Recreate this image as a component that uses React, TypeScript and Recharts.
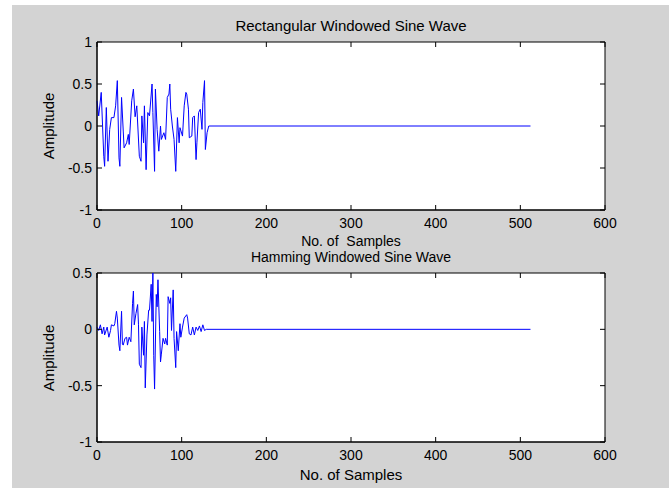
import React from 'react';
import { LineChart, Line, XAxis, YAxis, CartesianGrid, ReferenceArea } from 'recharts';

// sample positions / amplitudes (zero tail after the window)
const rectSamples = [0, 2, 5, 8, 9, 11, 13, 15, 17, 20, 22, 24, 26, 27, 29, 31, 32, 35, 37, 38, 41, 43, 45, 47, 50, 52, 53, 55, 56, 58, 60, 62, 65, 66, 68, 69, 71, 73, 75, 76, 79, 81, 83, 85, 86, 87, 89, 91, 93, 95, 97, 98, 101, 103, 105, 106, 108, 109, 112, 113, 115, 117, 118, 120, 122, 124, 125, 127, 128, 130, 132, 512];
const rectValues = [0.3, 0.12, 0.4, -0.36, -0.48, 0.22, -0.42, -0.04, 0.1, 0.1, 0.24, 0.54, -0.38, -0.48, 0.34, -0.06, -0.26, -0.2, -0.1, -0.22, 0.3, 0.44, 0.11, 0.24, -0.36, -0.42, 0.12, -0.2, 0.24, -0.52, 0.16, 0.12, 0.5, 0.16, -0.54, 0.44, -0.04, -0.3, 0, -0.16, -0.08, -0.16, 0.34, 0.38, 0.5, 0.2, 0, -0.16, -0.54, 0.1, -0.2, -0.02, -0.12, 0.24, 0.4, 0.38, 0.2, -0.14, -0.12, 0.1, 0.12, -0.4, -0.2, 0.16, 0.2, -0.04, 0.28, 0.54, -0.28, -0.08, 0, 0];

const hammSamples = [0, 2, 4, 6, 8, 9, 12, 14, 16, 17, 20, 21, 23, 24, 26, 27, 29, 30, 31, 33, 35, 36, 38, 40, 42, 43, 44, 46, 48, 49, 50, 52, 53, 55, 56, 57, 59, 61, 62, 64, 65, 66, 67, 68, 70, 71, 72, 74, 75, 76, 78, 80, 81, 83, 84, 86, 87, 88, 90, 91, 93, 94, 96, 98, 99, 101, 103, 106, 107, 109, 111, 113, 115, 117, 119, 121, 123, 125, 127, 129, 512];
const hammValues = [0.02, -0.01, 0.04, -0.04, 0.02, -0.05, 0.02, -0.07, -0.01, 0.04, 0.03, 0.05, 0.16, 0.1, -0.14, -0.19, 0.16, -0.13, -0.14, -0.08, -0.07, -0.14, -0.07, -0.11, 0.23, 0.34, 0.04, 0.14, 0.22, 0.04, -0.31, -0.34, 0.02, -0.23, 0.07, -0.52, -0.05, 0.17, 0.17, 0.4, 0.07, 0.5, -0.23, -0.53, 0.31, 0.2, 0.44, -0.02, -0.29, -0.22, -0.08, -0.13, -0.08, -0.14, 0.29, 0.23, 0.28, -0.01, 0.35, -0.08, -0.34, -0.02, -0.19, 0.05, -0.07, 0.02, 0.1, 0.13, 0.1, -0.04, -0.05, 0.02, -0.05, 0.02, -0.01, 0.03, -0.02, 0.04, -0.01, 0, 0];

const xTicks = [0, 100, 200, 300, 400, 500, 600];
const topYTicks = [-1, -0.5, 0, 0.5, 1];
const bottomYTicks = [-1, -0.5, 0, 0.5];

const FONT = '"Liberation Sans", Arial, sans-serif';
const PLOT_W = 508;

const makeXTick = (plotH: number) => (props: any) => {
  const { x, y, payload } = props;
  return (
    <g>
      <line x1={x} x2={x} y1={y} y2={y - 5} stroke="#000" />
      <line x1={x} x2={x} y1={y - plotH} y2={y - plotH + 5} stroke="#000" />
      <text x={x} y={y + 18} textAnchor="middle" fontSize={14} fontFamily={FONT} fill="#000">
        {payload.value}
      </text>
    </g>
  );
};

const YTick = (props: any) => {
  const { x, y, payload } = props;
  return (
    <g>
      <line x1={x} x2={x + 5} y1={y} y2={y} stroke="#000" />
      <line x1={x + PLOT_W} x2={x + PLOT_W - 5} y1={y} y2={y} stroke="#000" />
      <text x={x - 5} y={y + 5} textAnchor="end" fontSize={14} fontFamily={FONT} fill="#000">
        {payload.value}
      </text>
    </g>
  );
};

const txt = (top: number, size = 15): React.CSSProperties => ({
  position: 'absolute',
  top,
  left: 97,
  width: PLOT_W,
  textAlign: 'center',
  fontSize: size,
  lineHeight: '18px',
  fontFamily: FONT,
  whiteSpace: 'pre',
  color: '#000',
});

const ampStyle = (cy: number): React.CSSProperties => ({
  position: 'absolute',
  left: 49 - 50,
  top: cy - 9,
  width: 100,
  textAlign: 'center',
  fontSize: 15,
  lineHeight: '18px',
  fontFamily: FONT,
  transform: 'rotate(-90deg)',
  color: '#000',
});

export default function App() {
  const rectData = rectSamples.map((s, i) => ({ s, v: rectValues[i] }));
  const hammData = hammSamples.map((s, i) => ({ s, v: hammValues[i] }));

  return (
    <div style={{ position: 'absolute', left: 0, top: 0, width: 669, height: 488, background: '#fff', overflow: 'hidden' }}>
      <div style={{ position: 'absolute', left: 12, top: 5, right: 0, bottom: 0, background: '#d3d3d3' }} />

      <div style={{ position: 'absolute', left: 0, top: 0 }}>
        <LineChart width={669} height={260} data={rectData} margin={{ top: 42, right: 64, bottom: 20, left: 37 }}>
          <CartesianGrid fill="#ffffff" horizontal={false} vertical={false} />
          <XAxis type="number" dataKey="s" domain={[0, 600]} ticks={xTicks} height={30} tickSize={0} tickMargin={0}
            axisLine={{ stroke: '#000' }} tickLine={false} tick={makeXTick(168)} interval={0} />
          <YAxis type="number" domain={[-1, 1]} ticks={topYTicks} width={60} tickSize={0} tickMargin={0}
            axisLine={{ stroke: '#000' }} tickLine={false} tick={YTick} interval={0} />
          <ReferenceArea x1={0} x2={600} y1={-1} y2={1} fill="none" stroke="#000" strokeOpacity={1} />
          <Line type="linear" dataKey="v" stroke="#0000ff" strokeWidth={1} dot={false} isAnimationActive={false} />
        </LineChart>
      </div>

      <div style={{ position: 'absolute', left: 0, top: 230 }}>
        <LineChart width={669} height={258} data={hammData} margin={{ top: 43, right: 64, bottom: 16, left: 37 }}>
          <CartesianGrid fill="#ffffff" horizontal={false} vertical={false} />
          <XAxis type="number" dataKey="s" domain={[0, 600]} ticks={xTicks} height={30} tickSize={0} tickMargin={0}
            axisLine={{ stroke: '#000' }} tickLine={false} tick={makeXTick(169)} interval={0} />
          <YAxis type="number" domain={[-1, 0.5]} ticks={bottomYTicks} width={60} tickSize={0} tickMargin={0}
            axisLine={{ stroke: '#000' }} tickLine={false} tick={YTick} interval={0} />
          <ReferenceArea x1={0} x2={600} y1={-1} y2={0.5} fill="none" stroke="#000" strokeOpacity={1} />
          <Line type="linear" dataKey="v" stroke="#0000ff" strokeWidth={1} dot={false} isAnimationActive={false} />
        </LineChart>
      </div>

      <div style={txt(17)}>Rectangular Windowed Sine Wave</div>
      <div style={txt(232, 14)}>{'No. of  Samples'}</div>
      <div style={txt(248, 14)}>Hamming Windowed Sine Wave</div>
      <div style={txt(466)}>No. of Samples</div>
      <div style={ampStyle(126)}>Amplitude</div>
      <div style={ampStyle(358)}>Amplitude</div>
    </div>
  );
}
